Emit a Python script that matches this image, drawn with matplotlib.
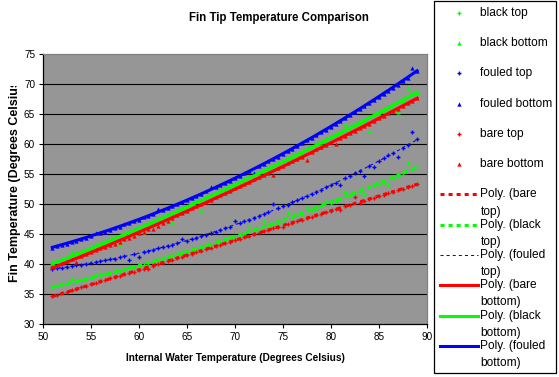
import numpy as np
import matplotlib
matplotlib.use("Agg")
import matplotlib.pyplot as plt
from matplotlib.lines import Line2D
from matplotlib.patches import Rectangle
from matplotlib.transforms import Bbox

plt.rcParams['lines.scale_dashes'] = False

# ---------------- data ----------------
water_temp = [51.0, 51.5, 52.0, 52.5, 53.0, 53.5, 54.0, 54.5, 55.0, 55.5,
              56.0, 56.5, 57.0, 57.5, 58.0, 58.5, 59.0, 59.5, 60.0, 60.5,
              61.0, 61.5, 62.0, 62.5, 63.0, 63.5, 64.0, 64.5, 65.0, 65.5,
              66.0, 66.5, 67.0, 67.5, 68.0, 68.5, 69.0, 69.5, 70.0, 70.5,
              71.0, 71.5, 72.0, 72.5, 73.0, 73.5, 74.0, 74.5, 75.0, 75.5,
              76.0, 76.5, 77.0, 77.5, 78.0, 78.5, 79.0, 79.5, 80.0, 80.5,
              81.0, 81.5, 82.0, 82.5, 83.0, 83.5, 84.0, 84.5, 85.0, 85.5,
              86.0, 86.5, 87.0, 87.5, 88.0, 88.5, 89.0]

black_top = [36.2, 36.4, 36.6, 36.7, 37.3, 37.1, 37.3, 37.5, 37.7, 38.2,
             38.1, 38.3, 38.5, 38.7, 38.9, 39.1, 39.3, 39.5, 39.7, 39.9,
             40.2, 40.4, 40.6, 40.8, 41.1, 41.3, 41.5, 41.8, 42.0, 42.2,
             42.5, 42.7, 43.0, 43.2, 43.5, 43.7, 44.0, 44.3, 44.5, 44.8,
             45.0, 46.1, 45.6, 45.8, 47.2, 46.4, 46.7, 46.9, 47.2, 48.5,
             47.8, 48.1, 48.4, 49.5, 49.0, 49.3, 49.6, 50.4, 50.2, 50.5,
             50.8, 52.0, 51.5, 51.8, 52.1, 51.6, 52.8, 53.1, 53.4, 53.7,
             53.2, 54.4, 54.7, 55.1, 56.8, 55.8, 56.1]

black_bottom = [40.3, 40.6, 40.9, 41.2, 42.0, 41.8, 42.1, 42.4, 42.7, 43.0,
                43.3, 43.5, 43.8, 44.1, 43.3, 44.7, 45.1, 45.4, 45.8, 45.1,
                46.5, 46.9, 47.2, 47.6, 48.0, 47.0, 48.9, 49.3, 49.7, 50.1,
                50.5, 49.0, 51.2, 51.5, 51.9, 52.3, 52.7, 53.0, 53.4, 53.8,
                54.2, 54.5, 54.9, 55.3, 55.7, 56.0, 56.4, 56.8, 57.2, 57.6,
                58.0, 58.3, 58.7, 59.1, 59.5, 59.9, 60.3, 60.7, 61.1, 61.5,
                61.9, 63.3, 62.7, 63.1, 63.5, 63.9, 62.2, 64.8, 65.2, 65.6,
                66.0, 66.4, 65.4, 67.2, 69.3, 68.2, 68.5]

fouled_top = [39.2, 39.3, 39.4, 39.5, 39.7, 39.8, 39.9, 40.0, 40.2, 40.3,
              40.5, 40.6, 40.8, 40.9, 41.1, 41.3, 40.6, 41.6, 41.2, 42.0,
              42.2, 42.4, 42.6, 42.8, 43.0, 43.2, 43.5, 44.1, 43.9, 44.2,
              44.4, 44.7, 44.9, 45.2, 45.4, 45.7, 46.0, 46.2, 47.2, 46.8,
              47.1, 47.4, 47.7, 48.0, 48.3, 48.6, 50.0, 49.3, 49.6, 49.9,
              50.3, 50.6, 51.0, 51.3, 51.7, 52.0, 52.4, 52.8, 53.2, 53.5,
              53.2, 54.3, 54.7, 55.1, 55.5, 54.7, 56.4, 56.1, 57.2, 57.6,
              58.1, 58.5, 57.9, 59.4, 59.9, 62.0, 60.8]

fouled_bottom = [42.7, 43.0, 43.2, 43.3, 43.6, 43.9, 44.1, 44.4, 44.6, 45.2,
                 45.2, 45.4, 45.7, 46.0, 46.2, 46.6, 46.8, 47.1, 47.4, 47.8,
                 48.0, 48.3, 49.1, 49.0, 49.3, 49.6, 50.0, 50.3, 50.6, 51.0,
                 51.3, 51.7, 52.1, 52.9, 52.8, 53.1, 53.5, 53.9, 54.3, 54.7,
                 55.1, 55.5, 55.2, 56.3, 56.7, 57.1, 57.5, 57.9, 58.4, 58.8,
                 59.2, 59.7, 60.1, 60.6, 61.0, 61.5, 62.0, 62.4, 62.9, 63.4,
                 63.8, 64.3, 64.8, 65.3, 65.8, 66.3, 66.8, 67.3, 67.8, 68.4,
                 68.9, 69.4, 69.9, 70.5, 71.0, 72.6, 72.1]

bare_top = [34.7, 34.8, 35.1, 35.3, 35.6, 35.8, 36.1, 36.3, 36.6, 36.8,
            37.1, 37.3, 37.6, 37.8, 38.0, 38.3, 38.5, 38.7, 39.0, 39.2,
            39.1, 39.7, 40.0, 40.2, 40.5, 40.7, 41.0, 41.2, 41.5, 41.7,
            42.0, 42.2, 42.5, 42.7, 43.0, 43.2, 43.5, 43.7, 44.0, 44.2,
            44.5, 44.7, 45.0, 45.2, 45.5, 45.7, 46.0, 46.2, 46.1, 46.7,
            46.9, 47.2, 47.4, 47.7, 47.9, 48.1, 48.4, 48.6, 48.9, 49.1,
            49.0, 49.6, 49.8, 51.1, 50.1, 50.5, 50.8, 51.0, 51.3, 51.5,
            51.8, 52.0, 52.3, 52.5, 52.8, 53.0, 53.3]

bare_bottom = [39.6, 39.9, 40.2, 40.5, 40.9, 40.4, 41.4, 41.7, 42.0, 42.3,
               42.6, 42.8, 43.1, 43.4, 43.7, 44.1, 44.4, 44.7, 45.1, 45.4,
               45.8, 45.9, 46.4, 46.8, 47.2, 47.6, 48.1, 48.5, 48.9, 49.3,
               49.7, 50.0, 50.4, 50.7, 51.1, 51.5, 51.9, 52.2, 52.6, 53.0,
               53.4, 53.7, 54.1, 54.5, 54.9, 55.2, 54.8, 56.0, 56.4, 56.8,
               57.2, 57.5, 57.9, 57.3, 58.7, 59.1, 59.5, 59.9, 60.3, 60.0,
               61.0, 61.4, 61.8, 62.2, 62.6, 63.0, 63.4, 63.9, 64.3, 64.7,
               65.1, 65.5, 65.9, 66.3, 66.8, 67.2, 67.6]

series_names = ["black top", "black bottom", "fouled top", "fouled bottom",
                "bare top", "bare bottom"]
series_values = [black_top, black_bottom, fouled_top, fouled_bottom,
                 bare_top, bare_bottom]
trend_names = ["Poly. (bare\ntop)", "Poly. (black\ntop)", "Poly. (fouled\ntop)",
               "Poly. (bare\nbottom)", "Poly. (black\nbottom)", "Poly. (fouled\nbottom)"]
trend_series = [bare_top, black_top, fouled_top, bare_bottom, black_bottom, fouled_bottom]

x_ticks = [50, 55, 60, 65, 70, 75, 80, 85, 90]
y_ticks = [30, 35, 40, 45, 50, 55, 60, 65, 70, 75]

# ---------------- styles ----------------
GREEN, BLUE, RED = "#00FF00", "#0000FF", "#FF0000"
series_colors = [GREEN, GREEN, BLUE, BLUE, RED, RED]
series_markers = ["+", "^", "+", "^", "+", "^"]
trend_colors = [RED, GREEN, BLUE, RED, GREEN, BLUE]
trend_styles = [dict(lw=2.2, dashes=(2.9, 2.9)), dict(lw=2.2, dashes=(2.9, 2.9)),
                dict(lw=0.75, dashes=(2.2, 2.2)), dict(lw=2.2, ls="-"),
                dict(lw=2.2, ls="-"), dict(lw=2.2, ls="-")]

FONT = ["Liberation Sans", "DejaVu Sans"]

W, H = 559, 377
fig = plt.figure(figsize=(W / 100, H / 100), dpi=100)
fig.patch.set_facecolor("white")


def fx(px):
    return px / W


def fy(py):
    return 1 - py / H


def marker_kw(mk):
    if mk == "+":
        return dict(marker="+", ms=3.4, mew=1.0)
    return dict(marker="^", ms=3.1, mew=0)


L, R, T, B = 42.7, 426.7, 54.0, 324.0
ax = fig.add_axes([fx(L), fy(B), (R - L) / W, (B - T) / H])
ax.set_facecolor("#969696")

for name, vals, col, mk in zip(series_names, series_values, series_colors, series_markers):
    ax.plot(water_temp, vals, ls="none", color=col, zorder=3, **marker_kw(mk))

xs = np.linspace(min(water_temp), max(water_temp), 300)
for vals, col, st in zip(trend_series, trend_colors, trend_styles):
    coef = np.polyfit(water_temp, vals, 2)
    if "dashes" in st:
        ax.plot(xs, np.polyval(coef, xs), color=col, lw=st["lw"],
                dashes=st["dashes"], zorder=4)
    else:
        ax.plot(xs, np.polyval(coef, xs), color=col, lw=st["lw"], ls="-", zorder=4)

ax.set_xlim(50, 90)
ax.set_ylim(30, 75)
ax.set_xticks(x_ticks)
ax.set_yticks(y_ticks)
for yv in y_ticks[1:-1]:
    ax.axhline(yv, color="black", lw=0.8, zorder=1)
ax.tick_params(axis="both", direction="out", length=3, width=0.8, color="black",
               labelsize=7.2, pad=2.4)
for lab in ax.get_xticklabels() + ax.get_yticklabels():
    lab.set_fontfamily(FONT)
for s in ["left", "bottom"]:
    ax.spines[s].set_color("black")
    ax.spines[s].set_linewidth(0.9)
for s in ["top", "right"]:
    ax.spines[s].set_color("#808080")
    ax.spines[s].set_linewidth(0.9)

# ---------------- texts ----------------
fig.text(fx(279), fy(17.5), "Fin Tip Temperature Comparison", ha="center", va="center",
         fontsize=8.3, fontweight="bold", family=FONT)
fig.text(fx(235), fy(358), "Internal Water Temperature (Degrees Celsius)",
         ha="center", va="center", fontsize=7.3, fontweight="bold", family=FONT)
yl = fig.text(fx(15), fy(282), "Fin Temperature (Degrees Celsius)", rotation=90,
              ha="center", va="bottom", fontsize=9, fontweight="bold", family=FONT)
yl.set_clip_box(Bbox([[0, 0], [W, H - 86]]))
yl.set_clip_on(True)

# ---------------- legend ----------------
fig.add_artist(Rectangle((fx(434), fy(373)), (556 - 434) / W, (373 - 1) / H,
                         transform=fig.transFigure, facecolor="white",
                         edgecolor="black", lw=0.9, zorder=5))
legend_labels = series_names + trend_names
for i, lab in enumerate(legend_labels):
    yc = 12.7 + 30.3 * i
    if i < 6:
        h = Line2D([fx(458.7)], [fy(yc)], ls="none", color=series_colors[i],
                   transform=fig.transFigure, zorder=6, **marker_kw(series_markers[i]))
    else:
        j = i - 6
        st = trend_styles[j]
        if "dashes" in st:
            h = Line2D([fx(440), fx(478)], [fy(yc), fy(yc)], color=trend_colors[j],
                       lw=st["lw"], dashes=st["dashes"], transform=fig.transFigure, zorder=6)
        else:
            h = Line2D([fx(440), fx(478)], [fy(yc), fy(yc)], color=trend_colors[j],
                       lw=st["lw"], ls="-", transform=fig.transFigure, zorder=6)
    fig.add_artist(h)
    for k, line in enumerate(lab.split("\n")):
        fig.text(fx(480.5), fy(yc + 17 * k), line, ha="left", va="center",
                 fontsize=8.6, family=FONT, zorder=7)

fig.savefig("out.png", dpi=100)
